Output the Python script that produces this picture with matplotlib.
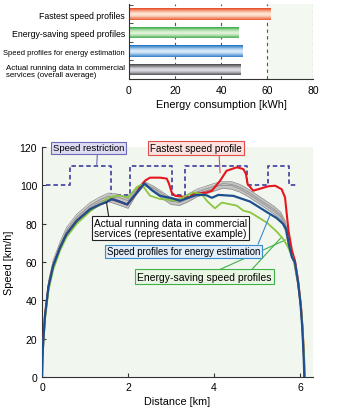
import numpy as np
import matplotlib
matplotlib.use('Agg')
import matplotlib.pyplot as plt
from matplotlib.colors import to_rgb

plt.rcParams['font.family'] = ['Liberation Sans', 'DejaVu Sans']
plt.rcParams['font.size'] = 7.5

# energy consumption per profile [kWh]
profiles = ['Fastest speed profiles',
            'Energy-saving speed profiles',
            'Speed profiles for energy estimation',
            'Actual running data in commercial\nservices (overall average)']
energy = [61.9, 47.9, 49.6, 48.8]
bar_edge = ['#e8532b', '#2fa33c', '#2677c6', '#3c3c3c']
bar_mid = ['#fde3cf', '#dcf1d3', '#d5e7f8', '#d8d8e0']
label_size = [6.3, 6.3, 5.4, 5.7]

# speed restriction (step line)
limit_d = [0.1, 0.65, 0.65, 1.6, 1.6, 2.05, 2.05, 3.02, 3.02, 3.33, 3.33, 4.76, 4.76, 5.26, 5.26, 5.75, 5.75, 5.92]
limit_v = [100, 100, 110, 110, 95, 95, 110, 110, 95, 95, 110, 110, 100, 100, 110, 110, 100, 100]

# speed profile for energy estimation
est_d = [0, 0.01, 0.03, 0.07, 0.15, 0.26, 0.42, 0.57, 0.81, 1.12, 1.35, 1.5, 1.62, 1.8, 1.98,
         2.2, 2.38, 2.55, 2.74, 2.98, 3.21, 3.4, 3.6, 3.8, 3.95, 4.1, 4.45, 4.84, 5.23, 5.45,
         5.6, 5.68, 5.74, 5.81, 5.88, 5.95, 6.01, 6.05, 6.08, 6.1]
est_v = [0, 10, 19, 32, 47, 58, 67.5, 74.5, 81.5, 87.5, 90, 91.3, 92.8, 91.5, 90,
         96, 101, 97.5, 94.5, 93.5, 92, 93.5, 95, 95, 93.5, 95, 94.5, 91.5, 86, 83,
         80, 77, 69, 62.5, 60, 50, 38, 26, 12, 0]

# fastest speed profile
fast_d = [0, 0.01, 0.03, 0.07, 0.15, 0.26, 0.42, 0.57, 0.81, 1.12, 1.35, 1.5, 1.62, 1.8, 1.98,
          2.2, 2.3, 2.4, 2.51, 2.75, 2.9, 2.95, 3.02, 3.1, 3.44, 3.5, 3.83, 3.95, 4.14, 4.29,
          4.53, 4.68, 4.74, 4.78, 4.91, 5.26, 5.42, 5.57, 5.65, 5.69, 5.73, 5.81, 5.88, 5.96,
          6.02, 6.06, 6.09, 6.1]
fast_v = [0, 10, 19, 32, 47, 58, 67.5, 74.5, 81.5, 87.5, 90, 91.3, 92.8, 91.5, 90,
          96, 100, 102.5, 104, 104, 103.5, 101, 96, 94.5, 93.7, 95.5, 96.3, 97.2, 102.4, 107.6,
          109.4, 108.5, 106, 100.7, 97.2, 99.5, 99.8, 98, 93.7, 85, 76.3, 66, 60.7, 49,
          37, 24, 11, 0]

# energy-saving speed profile
save_d = [0, 0.01, 0.03, 0.07, 0.15, 0.26, 0.42, 0.57, 0.81, 1.12, 1.35, 1.5, 1.7, 1.85, 2.0,
          2.2, 2.32, 2.51, 2.74, 3.13, 3.3, 3.52, 3.71, 3.83, 3.95, 4.02, 4.18, 4.53, 4.68,
          4.84, 5.23, 5.45, 5.61, 5.72, 5.81, 5.88, 5.96, 6.02, 6.06, 6.09, 6.11]
save_v = [0, 9, 17, 30, 45, 56, 66, 73, 80, 86.5, 90, 92.9, 94.5, 94.6, 93.7,
          99, 100.5, 94.6, 92.9, 92, 94, 96.3, 95.5, 92, 89.4, 88, 91, 89.4, 86.8,
          85.9, 80.5, 76, 72, 67.7, 63.3, 59, 48, 37, 25, 12, 0]

# actual running data in commercial services
run_d = [0, 0.03, 0.07, 0.15, 0.26, 0.42, 0.57, 0.81, 1.12, 1.35, 1.55, 1.75, 2.0, 2.2, 2.38,
         2.6, 2.8, 3.0, 3.2, 3.4, 3.6, 3.8, 4.0, 4.2, 4.4, 4.6, 4.8, 5.0, 5.2, 5.4, 5.55,
         5.65, 5.75, 5.85, 5.95, 6.02, 6.06, 6.1]
run_a = [0, 20, 34, 50, 61, 70.5, 78, 85, 91, 94, 96, 95.5, 93, 98, 102, 99.5, 96.5, 93.5, 93,
         95.5, 98, 99.5, 101, 102, 102, 100.5, 98, 95, 92, 89, 86, 81.5, 71, 62, 50, 36, 23, 0]
run_b = [0, 18, 31, 46, 57, 67, 74.5, 81.5, 87.5, 90.5, 91.5, 90, 88, 95.5, 100, 97, 93, 90, 89.5,
         91.5, 94, 95.5, 97, 98.5, 98, 96.5, 94, 91, 88, 85, 82, 76.5, 66, 59.5, 47, 34, 21, 0]
run_c = [0, 19, 33, 48, 59.5, 69, 76.5, 83.5, 89.5, 92.5, 94.5, 92.5, 90, 96.5, 100.5, 98.5, 95.5,
         92, 91, 93, 96.5, 98, 99.5, 100, 100, 98, 95.5, 92.5, 89.5, 86.5, 83.5, 78, 67, 60.5,
         48, 35, 22, 0]
run_e = [0, 19, 32.5, 47.5, 58.5, 68, 75.5, 82.5, 88.5, 91.5, 93, 94, 92, 97.5, 101.5, 97.5, 94.5,
         91.5, 91.5, 94, 95.5, 97, 98.5, 101, 100.5, 99, 96.5, 93.5, 90.5, 87.5, 84.5, 80, 69,
         61.5, 49, 35.5, 22.5, 0]
runs = [run_a, run_b, run_c, run_e]


def blend(c1, c2, t):
    a, b = np.array(to_rgb(c1)), np.array(to_rgb(c2))
    return tuple(a + (b - a) * t)


fig = plt.figure(figsize=(3.4, 4.14), dpi=100)

# ---- energy consumption bars ----
ax1 = fig.add_axes([129 / 340, 1 - 80 / 414, 184 / 340, 75 / 414])
ax1.axvspan(60, 80, color='#f3f8f0', zorder=0)
ypos = np.arange(len(profiles))
h = 0.62
nlay = 12
for i in range(len(profiles)):
    for k in range(nlay):
        t = k / (nlay - 1)
        ax1.barh(ypos[i], energy[i], height=h * (1 - 0.8 * t),
                 color=blend(bar_edge[i], bar_mid[i], t ** 0.8), zorder=2 + k * 0.01)
for g in [20, 40, 60, 80]:
    ax1.axvline(g, color='#555555', lw=0.8, ls=(0, (3, 3)), zorder=1)
ax1.set_xlim(0, 80)
ax1.set_ylim(3.5, -0.55)
ax1.set_xticks([0, 20, 40, 60, 80])
ax1.set_yticks(ypos)
ax1.set_yticklabels(profiles, multialignment='left', linespacing=1.05)
for lab, fs in zip(ax1.get_yticklabels(), label_size):
    lab.set_fontsize(fs)
ax1.set_yticks([-0.5, 0.5, 1.5, 2.5], minor=True)
ax1.tick_params(axis='y', which='major', length=0, pad=3)
ax1.tick_params(axis='y', which='minor', length=3, direction='in', color='#333333')
ax1.tick_params(axis='x', length=0, labelsize=7.5, pad=4)
ax1.set_xlabel('Energy consumption [kWh]', fontsize=7.8, labelpad=3)
for s in ['top', 'right']:
    ax1.spines[s].set_visible(False)
for s in ['left', 'bottom']:
    ax1.spines[s].set_color('#333333')
    ax1.spines[s].set_linewidth(0.8)

# ---- speed profiles ----
ax2 = fig.add_axes([42 / 340, 1 - 378 / 414, 271 / 340, 230 / 414])
ax2.set_facecolor('#f1f7ee')
ax2.plot(limit_d, limit_v, color='#4b4ba8', lw=1.3, ls=(0, (2.5, 1.6)), zorder=2)

runs_arr = np.array(runs)
ax2.fill_between(run_d, runs_arr.min(axis=0), runs_arr.max(axis=0),
                 color='#c4c4c4', lw=0, zorder=3)
for r in runs:
    ax2.plot(run_d, r, color='#8a8a8a', lw=0.5, zorder=3)

ax2.plot(fast_d, fast_v, color='#e8141e', lw=1.5, zorder=4)
ax2.plot(save_d, save_v, color='#8cc63f', lw=1.3, zorder=5)
ax2.plot(est_d, est_v, color='#1d4e8f', lw=1.6, zorder=6)

ax2.set_xlim(0, 6.3)
ax2.set_ylim(0, 120)
ax2.set_xticks([0, 2, 4, 6])
ax2.set_yticks(np.arange(0, 121, 20))
ax2.tick_params(direction='in', length=3, labelsize=7.5, color='#333333')
ax2.set_xlabel('Distance [km]', fontsize=7.8, labelpad=3)
ax2.set_ylabel('Speed [km/h]', fontsize=7.8, labelpad=4)
for s in ['top', 'right']:
    ax2.spines[s].set_visible(False)
for s in ['left', 'bottom']:
    ax2.spines[s].set_color('#333333')
    ax2.spines[s].set_linewidth(0.8)


def callout(text, xy, xytext, face, edge, relpos=(0.5, 0.5), size=7.5):
    ax2.annotate(text, xy=xy, xytext=xytext, ha='center', va='center', fontsize=size,
                 annotation_clip=False, zorder=10, linespacing=1.0,
                 bbox=dict(boxstyle='square,pad=0.2', fc=face, ec=edge, lw=0.8),
                 arrowprops=dict(arrowstyle='-', color=edge, lw=0.8, relpos=relpos,
                                 shrinkA=0, shrinkB=0))


callout('Speed restriction', (1.27, 110), (1.09, 119.5), '#dedcf4', '#6c6cb4', (0.62, 0), 6.8)
callout('Fastest speed profile', (4.14, 106.5), (3.58, 119.7), '#fde2e0', '#e0504a', (0.75, 0), 7.1)
callout('Actual running data in commercial\nservices (representative example)',
        (1.5, 91), (2.98, 77.7), 'white', '#222222', (0.1, 1), 7.3)
callout('Speed profiles for energy estimation', (5.3, 84.5), (3.29, 65.5),
        '#e2eefa', '#3a8ad0', (0.98, 1), 6.9)
callout('Energy-saving speed profiles', (5.55, 72.5), (3.77, 52.4),
        '#eaf6e4', '#3fb04a', (0.84, 1), 7.5)
ax2.annotate('', xy=(5.66, 71.5), xytext=(3.77, 52.4), annotation_clip=False,
             arrowprops=dict(arrowstyle='-', color='#3fb04a', lw=0.8, relpos=(0.93, 1),
                             shrinkA=0, shrinkB=0, patchA=None))

fig.savefig('out.png', dpi=100)
